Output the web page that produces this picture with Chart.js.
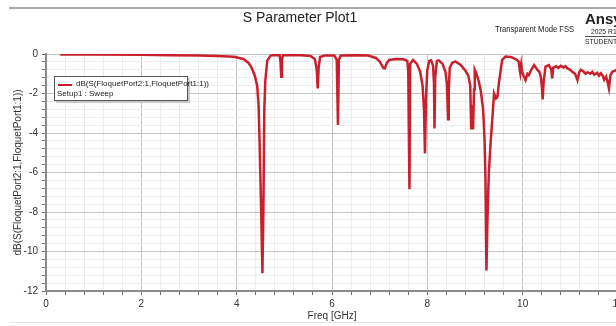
<!DOCTYPE html>
<html>
<head>
<meta charset="utf-8">
<script src="https://cdn.jsdelivr.net/npm/chart.js@4.4.1/dist/chart.umd.min.js"></script>
<style>
    body { margin: 0; background: #fff; overflow: hidden; }
    #page { position: relative; width: 616px; height: 326px; overflow: hidden; font-family: "Liberation Sans Narrow", "Liberation Sans", Arial, sans-serif; }
    #chartBox { position: absolute; left: 0; top: 0; width: 640px; height: 326px; }
    .txt { position: absolute; white-space: nowrap; color: #222; }
    .narrow { transform: scaleX(0.85); transform-origin: left center; }
    #topLine { position: absolute; left: 9px; top: 7px; width: 610px; height: 2px; background: #a8a8a8; }
    #bottomLine { position: absolute; left: 9px; top: 322px; width: 610px; height: 1px; background: #e6e6e6; }
    #legendBox { position: absolute; left: 54px; top: 76px; width: 132px; height: 23px; background: #fff; border: 1px solid #555; box-shadow: 2px 2px 0 #c8c8c8; font-size: 8px; color: #222; }
    #legendBox .swatch { position: absolute; left: 3px; top: 7px; width: 14px; height: 2px; background: #c8202c; }
    #legendBox .lbl1 { position: absolute; left: 21px; top: 2px; }
    #legendBox .lbl2 { position: absolute; left: 2px; top: 12px; }
</style>
</head>
<body>
<div id="page">
    <div id="chartBox"><canvas id="sParamChart"></canvas></div>
    <div id="topLine"></div>
    <div id="bottomLine"></div>
    <div class="txt" style="left:0; top:9px; width:600px; text-align:center; font-size:14px; font-family:'Liberation Sans', Arial, sans-serif;">S Parameter Plot1</div>
    <div class="txt narrow" style="left:495px; top:24px; font-size:9px;">Transparent Mode FSS</div>
    <div class="txt" style="left:585px; top:10px; font-size:15px; font-weight:bold; font-family:'Liberation Sans', Arial, sans-serif;">Ansys</div>
    <div class="txt narrow" style="left:591px; top:27px; font-size:8px;">2025 R1</div>
    <div style="position:absolute; left:585px; top:36px; width:40px; height:1px; background:#555;"></div>
    <div class="txt narrow" style="left:585px; top:37px; font-size:8px;">STUDENT</div>
    <div id="legendBox">
        <div class="swatch"></div>
        <div class="lbl1">dB(S(FloquetPort2:1,FloquetPort1:1))</div>
        <div class="lbl2">Setup1 : Sweep</div>
    </div>
</div>
<script>
    //data doc tu hinh (GHz, dB)
    var freqGHz = [
        0.3, 1.0, 2.0, 2.6, 3.2, 3.6, 3.94, 4.14, 4.25, 4.32,
        4.38, 4.43, 4.46, 4.48, 4.51, 4.54, 4.56, 4.58, 4.6, 4.64,
        4.71, 4.8, 4.9, 4.92, 4.935, 4.95, 4.97, 5.1, 5.35, 5.55,
        5.64, 5.68, 5.70, 5.72, 5.75, 5.85, 6.05, 6.1, 6.125, 6.145,
        6.18, 6.5, 6.76, 6.92, 7.0, 7.04, 7.08, 7.11, 7.15, 7.2,
        7.35, 7.5, 7.58, 7.6, 7.61, 7.625, 7.64, 7.7, 7.78, 7.85,
        7.9, 7.93, 7.95, 7.975, 8.0, 8.04, 8.08, 8.12, 8.14, 8.15,
        8.165, 8.2, 8.24, 8.32, 8.38, 8.41, 8.435, 8.45, 8.47, 8.52,
        8.59, 8.7, 8.8, 8.86, 8.9, 8.92, 8.94, 8.96, 8.98, 8.995,
        9.03, 9.08, 9.12, 9.17, 9.2, 9.22, 9.24, 9.26, 9.29, 9.33,
        9.36, 9.40, 9.44, 9.47, 9.5, 9.54, 9.57, 9.64, 9.75, 9.82,
        9.88, 9.92, 9.94, 9.95, 9.97, 9.99, 10.02, 10.06, 10.1, 10.13,
        10.18, 10.24, 10.28, 10.31, 10.35, 10.38, 10.4, 10.42, 10.44, 10.48,
        10.55, 10.6, 10.62, 10.64, 10.7, 10.75, 10.8, 10.86, 10.9, 10.94,
        11.0, 11.04, 11.1, 11.15, 11.19, 11.22, 11.28, 11.32, 11.36, 11.42,
        11.46, 11.5, 11.56, 11.6, 11.64, 11.68, 11.71, 11.75, 11.78, 11.81,
        11.84, 11.88, 11.93, 11.97, 12.0
    ];
    var s21dB = [
        -0.02, -0.02, -0.04, -0.06, -0.08, -0.1, -0.14, -0.25, -0.45, -0.73,
        -1.1, -1.6, -2.6, -4.4, -7.5, -11.1, -8.0, -2.8, -1.4, -0.35,
        -0.08, -0.05, -0.06, -0.4, -1.15, -0.3, -0.06, -0.05, -0.06, -0.1,
        -0.25, -0.8, -1.74, -0.7, -0.15, -0.08, -0.08, -0.3, -3.6, -0.3,
        -0.08, -0.06, -0.08, -0.2, -0.38, -0.55, -0.72, -0.73, -0.45, -0.3,
        -0.25, -0.27, -0.35, -0.9, -3.5, -6.85, -0.5, -0.3, -0.5, -0.9,
        -1.6, -2.8, -5.04, -2.0, -0.8, -0.35, -0.32, -0.6, -1.5, -3.77,
        -1.2, -0.35, -0.32, -0.5, -0.9, -1.5, -3.3, -1.8, -0.7, -0.45,
        -0.38, -0.55, -0.85, -1.1, -1.6, -3.82, -2.6, -3.82, -1.8, -0.8,
        -1.0, -1.4, -1.85, -2.8, -4.3, -6.4, -10.96, -8.5, -6.0, -4.4,
        -3.4, -2.0, -2.25, -2.17, -1.5, -0.8, -0.3, -0.13, -0.15, -0.22,
        -0.3, -0.4, -0.85, -0.98, -0.55, -0.9, -1.1, -1.32, -1.0, -1.07,
        -0.8, -0.56, -0.7, -0.81, -0.9, -1.15, -1.6, -2.3, -1.4, -0.64,
        -0.56, -0.8, -1.24, -0.7, -0.62, -0.7, -0.6, -0.68, -0.62, -0.73,
        -0.8, -0.9, -1.0, -1.32, -0.9, -0.8, -0.9, -1.0, -0.92, -1.0,
        -0.9, -1.05, -0.95, -1.1, -0.98, -1.1, -1.3, -1.15, -1.4, -1.74,
        -1.1, -0.9, -0.85, -0.8, -0.82
    ];
    var xTickLabels = [0, 2, 4, 6, 8, 10, 12];
    var yTickLabels = [0, -2, -4, -6, -8, -10, -12];
    var seriesLabel = "dB(S(FloquetPort2:1,FloquetPort1:1))";

    var gFont = "'Liberation Sans Narrow', 'Liberation Sans', Arial, sans-serif";

    //ve chart
    function isMajor(pValue, pList) {
        for (var i = 0; i < pList.length; i++) {
            if (Math.abs(pList[i] - pValue) < 1e-6) return true;
        }
        return false;
    }

    function buildTicks(pMin, pMax, pStep) {
        var vTicks = [];
        var n = Math.round((pMax - pMin) / pStep);
        for (var i = 0; i <= n; i++) {
            vTicks.push({ value: Math.round((pMin + i * pStep) * 1000) / 1000 });
        }
        return vTicks;
    }

    var vPoints = [];
    for (var i = 0; i < freqGHz.length; i++) {
        vPoints.push({ x: freqGHz[i], y: s21dB[i] });
    }

    new Chart(document.getElementById('sParamChart').getContext('2d'), {
        type: 'line',
        data: {
            datasets: [{
                label: seriesLabel,
                data: vPoints,
                borderColor: '#c8202c',
                borderWidth: 2.5,
                pointRadius: 0,
                tension: 0,
                fill: false
            }]
        },
        options: {
            responsive: true,
            maintainAspectRatio: false,
            animation: false,
            layout: { padding: { top: 54, left: 0, right: 22, bottom: 0 } },
            plugins: {
                legend: { display: false },
                tooltip: { enabled: false }
            },
            scales: {
                x: {
                    type: 'linear',
                    min: 0,
                    max: 12,
                    afterBuildTicks: function (scale) { scale.ticks = buildTicks(0, 12, 0.4); },
                    afterFit: function (scale) { scale.height = 35; },
                    ticks: {
                        autoSkip: false,
                        maxRotation: 0,
                        color: '#333',
                        font: { family: gFont, size: 10 },
                        padding: 3,
                        callback: function (value) { return isMajor(value, xTickLabels) ? String(Math.round(value)) : ''; }
                    },
                    grid: {
                        color: function (ctx) { return ctx.tick && isMajor(ctx.tick.value, xTickLabels) ? '#c4c4c4' : '#ececec'; },
                        tickColor: '#6e6e6e',
                        tickLength: 4
                    },
                    border: { color: '#8a8a8a', width: 2 },
                    title: {
                        display: true,
                        text: 'Freq [GHz]',
                        color: '#333',
                        font: { family: gFont, size: 10 },
                        padding: { top: 0, bottom: 4 }
                    }
                },
                y: {
                    min: -12,
                    max: 0,
                    afterBuildTicks: function (scale) { scale.ticks = buildTicks(-12, 0, 0.4); },
                    afterFit: function (scale) { scale.width = 46; },
                    ticks: {
                        autoSkip: false,
                        color: '#333',
                        font: { family: gFont, size: 10 },
                        padding: 4,
                        callback: function (value) { return isMajor(value, yTickLabels) ? String(Math.round(value)) : ''; }
                    },
                    grid: {
                        color: function (ctx) { return ctx.tick && isMajor(ctx.tick.value, yTickLabels) ? '#c4c4c4' : '#ececec'; },
                        tickColor: '#6e6e6e',
                        tickLength: 4
                    },
                    border: { color: '#8a8a8a', width: 2 },
                    title: {
                        display: true,
                        text: seriesLabel,
                        color: '#333',
                        font: { family: gFont, size: 10 },
                        padding: { top: 12, bottom: 0 }
                    }
                }
            }
        }
    });
</script>
</body>
</html>
